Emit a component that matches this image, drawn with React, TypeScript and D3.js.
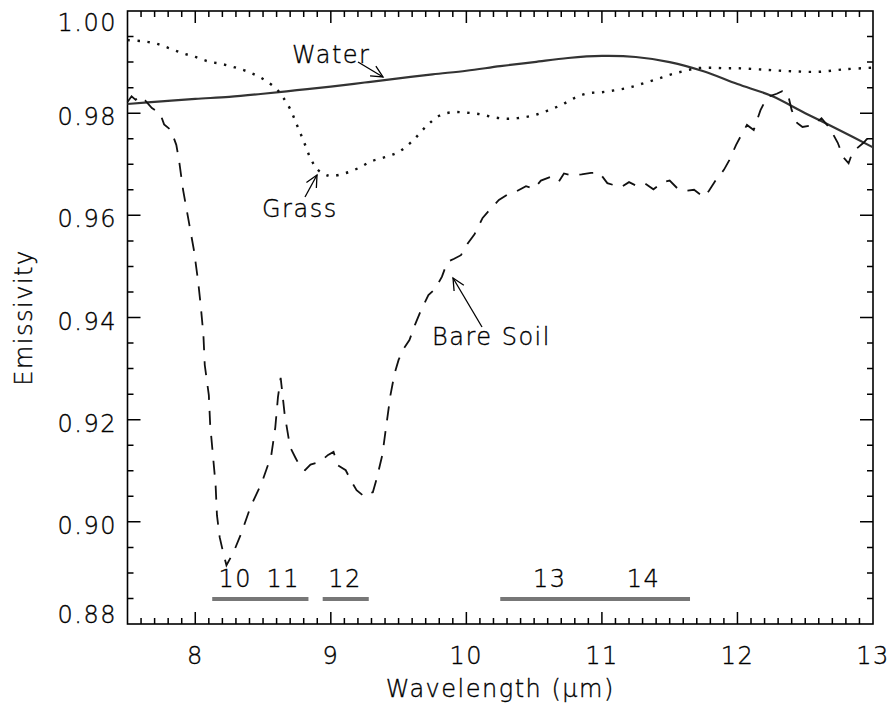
import React from "react";
import * as d3 from "d3";

// ---- data ----
const waterW = [7.5, 7.75, 8.0, 8.25, 8.5, 8.75, 9.0, 9.25, 9.5, 9.75, 10.0, 10.25, 10.5, 10.75, 11.0, 11.25, 11.5, 11.75, 12.0, 12.25, 12.5, 12.75, 13.0];
const waterE = [0.9818, 0.9823, 0.9828, 0.9832, 0.9838, 0.9845, 0.9852, 0.986, 0.9868, 0.9876, 0.9883, 0.9892, 0.99, 0.9908, 0.9912, 0.991, 0.99, 0.9882, 0.9857, 0.9834, 0.9800, 0.9767, 0.9733];

const grassW = [7.5, 7.6, 7.7, 7.8, 7.9, 8.0, 8.1, 8.2, 8.3, 8.4, 8.5, 8.6, 8.65, 8.7, 8.75, 8.8, 8.85, 8.9, 8.95, 9.0, 9.1, 9.2, 9.3, 9.4, 9.5, 9.6, 9.7, 9.8, 9.9, 10.0, 10.1, 10.2, 10.3, 10.4, 10.5, 10.6, 10.7, 10.8, 10.9, 11.0, 11.1, 11.2, 11.3, 11.4, 11.5, 11.6, 11.7, 11.8, 11.9, 12.0, 12.2, 12.4, 12.6, 12.8, 13.0];
const grassE = [0.9943, 0.9941, 0.9937, 0.9928, 0.9918, 0.991, 0.9901, 0.9896, 0.9889, 0.988, 0.9867, 0.9847, 0.983, 0.9808, 0.9777, 0.9745, 0.9712, 0.969, 0.9681, 0.9677, 0.9682, 0.9692, 0.9706, 0.9714, 0.9724, 0.9745, 0.9773, 0.9795, 0.9802, 0.9801, 0.9798, 0.9792, 0.9789, 0.9791, 0.9796, 0.9805, 0.9816, 0.983, 0.9839, 0.9841, 0.9845, 0.985, 0.9858, 0.9866, 0.9875, 0.9882, 0.9888, 0.9889, 0.9888, 0.9888, 0.9885, 0.9882, 0.9881, 0.9886, 0.9889];

const soilW = [7.5, 7.53, 7.56, 7.59, 7.63, 7.68, 7.74, 7.77, 7.82, 7.86, 7.88, 7.91, 7.95, 7.99, 8.02, 8.04, 8.06, 8.07, 8.1, 8.11, 8.13, 8.15, 8.16, 8.18, 8.21, 8.23, 8.28, 8.34, 8.41, 8.49, 8.56, 8.59, 8.61, 8.63, 8.64, 8.66, 8.7, 8.74, 8.78, 8.81, 8.85, 8.89, 8.94, 8.98, 9.02, 9.05, 9.11, 9.15, 9.19, 9.25, 9.28, 9.31, 9.34, 9.38, 9.41, 9.44, 9.47, 9.5, 9.54, 9.58, 9.62, 9.66, 9.72, 9.77, 9.82, 9.86, 9.91, 9.96, 10.01, 10.06, 10.12, 10.17, 10.24, 10.31, 10.37, 10.44, 10.5, 10.55, 10.62, 10.68, 10.72, 10.78, 10.85, 10.92, 10.98, 11.04, 11.09, 11.14, 11.2, 11.26, 11.32, 11.38, 11.45, 11.5, 11.56, 11.62, 11.68, 11.75, 11.79, 11.84, 11.9, 11.94, 11.99, 12.02, 12.07, 12.12, 12.17, 12.22, 12.29, 12.33, 12.37, 12.4, 12.44, 12.48, 12.56, 12.62, 12.68, 12.74, 12.78, 12.82, 12.85, 12.93, 12.98, 13.0];
const soilE = [0.9822, 0.9833, 0.9826, 0.9834, 0.9825, 0.981, 0.98, 0.9778, 0.9767, 0.9738, 0.9708, 0.965, 0.9591, 0.9532, 0.9473, 0.9424, 0.9366, 0.9307, 0.9248, 0.919, 0.9131, 0.9072, 0.9013, 0.897, 0.8935, 0.8915, 0.8939, 0.8978, 0.9031, 0.9076, 0.9129, 0.9184, 0.9244, 0.9282, 0.9258, 0.9209, 0.9146, 0.9125, 0.9105, 0.9101, 0.9112, 0.9115, 0.9122, 0.9131, 0.9137, 0.9111, 0.9101, 0.908, 0.9062, 0.9049, 0.9055, 0.9058, 0.9086, 0.9131, 0.919, 0.9248, 0.929, 0.9317, 0.934, 0.9356, 0.9385, 0.9411, 0.9444, 0.9456, 0.948, 0.9509, 0.9515, 0.9522, 0.9545, 0.9563, 0.9595, 0.961, 0.963, 0.9642, 0.9647, 0.9657, 0.9652, 0.9668, 0.9675, 0.9665, 0.9682, 0.9678, 0.968, 0.9683, 0.9684, 0.9663, 0.9659, 0.9655, 0.9665, 0.9657, 0.9662, 0.9651, 0.9665, 0.9668, 0.9652, 0.9648, 0.965, 0.9636, 0.9648, 0.9669, 0.9689, 0.9708, 0.9738, 0.9753, 0.9777, 0.9767, 0.9806, 0.9832, 0.9838, 0.9843, 0.984, 0.9806, 0.9781, 0.9773, 0.9777, 0.979, 0.9771, 0.9742, 0.9714, 0.9702, 0.9724, 0.9742, 0.9757, 0.9767];

// ASTER TIR bands
const bandLabels = ["10", "11", "12", "13", "14"];
const bandCenters = [8.295, 8.65, 9.105, 10.615, 11.307];
const bandBarStart = [8.125, 8.94, 10.25];
const bandBarEnd = [8.835, 9.28, 11.65];
const bandBarLevel = 0.8849;
const bandLabelLevel = 0.8872;

const xTickValues = [8, 9, 10, 11, 12, 13];
const yTickValues = [0.88, 0.9, 0.92, 0.94, 0.96, 0.98, 1.0];

const W = 892, H = 707;
const M = { left: 127.5, right: 873, top: 11, bottom: 624 };
const FONT = "'DejaVu Sans', 'Liberation Sans', sans-serif";

export default function App() {
  const x = d3.scaleLinear().domain([7.5, 13]).range([M.left, M.right]);
  const y = d3.scaleLinear().domain([0.88, 1.0]).range([M.bottom, M.top]);

  const smooth = d3.line<[number, number]>().x(d => x(d[0])).y(d => y(d[1])).curve(d3.curveCatmullRom);
  const rough = d3.line<[number, number]>().x(d => x(d[0])).y(d => y(d[1]));

  const water = waterW.map((w, i) => [w, waterE[i]] as [number, number]);
  const grass = grassW.map((w, i) => [w, grassE[i]] as [number, number]);
  const soil = soilW.map((w, i) => [w, soilE[i]] as [number, number]);

  const xMinor = d3.range(76, 130).map(v => v / 10).filter(v => Math.abs(v - Math.round(v)) > 1e-6);
  const yMinor = d3.range(177, 200).map(v => v / 200).filter(v => Math.abs(v * 50 - Math.round(v * 50)) > 1e-6);

  const ink = "#000";
  const textStyle = { fontFamily: FONT, fontSize: 24, fontWeight: 200, fill: "#000", stroke: "#000", strokeWidth: 0.35, letterSpacing: 1.5 } as const;

  const arrow = (x1: number, y1: number, x2: number, y2: number, key: string) => {
    const ang = Math.atan2(y2 - y1, x2 - x1);
    const L = 13, a = 0.45;
    const p1 = [x2 - L * Math.cos(ang - a), y2 - L * Math.sin(ang - a)];
    const p2 = [x2 - L * Math.cos(ang + a), y2 - L * Math.sin(ang + a)];
    return (
      <g key={key}>
        <line x1={x1} y1={y1} x2={x2} y2={y2} stroke={ink} strokeWidth={1.3} />
        <polyline points={`${p1[0]},${p1[1]} ${x2},${y2} ${p2[0]},${p2[1]}`} fill="none" stroke={ink} strokeWidth={1.3} />
      </g>
    );
  };

  // tick marks as one path
  const p = d3.path();
  xTickValues.filter(v => v < 13).forEach(v => {
    const px = x(v);
    p.moveTo(px, M.bottom); p.lineTo(px, M.bottom - 12);
    p.moveTo(px, M.top); p.lineTo(px, M.top + 12);
  });
  xMinor.forEach(v => {
    const px = x(v);
    p.moveTo(px, M.bottom); p.lineTo(px, M.bottom - 6);
    p.moveTo(px, M.top); p.lineTo(px, M.top + 6);
  });
  yTickValues.filter(v => v > 0.881 && v < 0.999).forEach(v => {
    const py = y(v);
    p.moveTo(M.left, py); p.lineTo(M.left + 13, py);
    p.moveTo(M.right, py); p.lineTo(M.right - 13, py);
  });
  yMinor.forEach(v => {
    const py = y(v);
    p.moveTo(M.left, py); p.lineTo(M.left + 6, py);
    p.moveTo(M.right, py); p.lineTo(M.right - 6, py);
  });

  return (
    <svg width={W} height={H} style={{ position: "absolute", left: 0, top: 0, background: "#fff" }}>
      {/* frame */}
      <rect x={M.left} y={M.top} width={M.right - M.left} height={M.bottom - M.top} fill="none" stroke={ink} strokeWidth={1.6} />
      <path d={p.toString()} fill="none" stroke="#000" strokeWidth={1.5} />
      {/* tick labels */}
      {xTickValues.map(v => (
        <text key={"xl" + v} x={x(v)} y={664} textAnchor="middle" style={textStyle}>{String(v)}</text>
      ))}
      {yTickValues.map((v, i) => {
        const off = i === yTickValues.length - 1 ? 20 : i === 0 ? -1 : 12;
        return (
          <text key={"yl" + v} x={117} y={y(v) + off} textAnchor="end" style={textStyle}>{v.toFixed(2)}</text>
        );
      })}
      {/* axis titles */}
      <text x={(M.left + M.right) / 2} y={697} textAnchor="middle" style={textStyle}>Wavelength (μm)</text>
      <text transform={`translate(32,${(M.top + M.bottom) / 2}) rotate(-90)`} textAnchor="middle" style={textStyle}>Emissivity</text>

      {/* curves */}
      <path d={smooth(water) || ""} fill="none" stroke="#333" strokeWidth={2.2} />
      <path d={smooth(grass) || ""} fill="none" stroke="#111" strokeWidth={2.4} strokeDasharray="2.4 7.6" />
      <path d={rough(soil) || ""} fill="none" stroke="#111" strokeWidth={1.8} strokeDasharray="14 11" />

      {/* bands */}
      {bandBarStart.map((b, i) => (
        <line key={"bb" + i} x1={x(b)} x2={x(bandBarEnd[i])} y1={y(bandBarLevel)} y2={y(bandBarLevel)} stroke="#777" strokeWidth={4} />
      ))}
      {bandLabels.map((l, i) => (
        <text key={"bl" + l} x={x(bandCenters[i])} y={y(bandLabelLevel)} textAnchor="middle" style={textStyle}>{l}</text>
      ))}

      {/* annotations */}
      <text x={292} y={63} style={textStyle}>Water</text>
      {arrow(358, 62, 383, 77, "aw")}
      <text x={262} y={217} style={textStyle}>Grass</text>
      {arrow(305, 197, 317, 175, "ag")}
      <text x={432} y={345} style={textStyle}>Bare Soil</text>
      {arrow(482, 327, 453, 278, "as")}
    </svg>
  );
}
